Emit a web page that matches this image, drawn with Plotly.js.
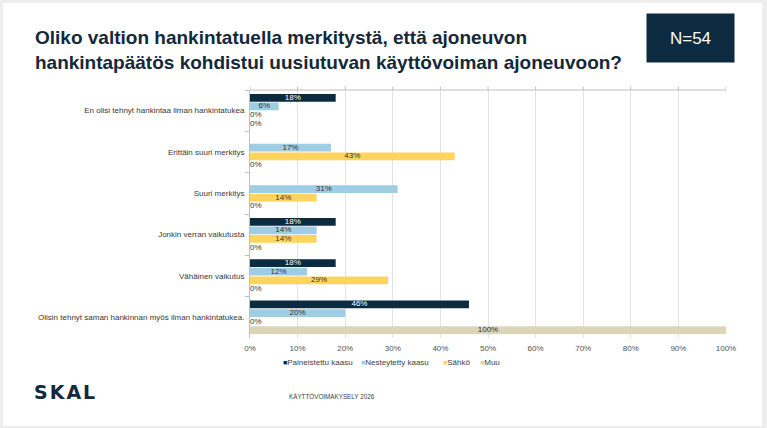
<!DOCTYPE html>
<html>
<head>
<meta charset="utf-8">
<script src="https://cdn.plot.ly/plotly-3.0.1.min.js"></script>
<style>
  html, body { margin: 0; padding: 0; background: #eeeeee; width: 767px; height: 428px; overflow: hidden; }
  #chart { position: absolute; left: 3px; top: 3px; width: 759px; height: 423px; }
</style>
</head>
<body>
<div id="chart"></div>
<script>
// Survey answers (share of respondents per fuel type, %)
const categories = [
  "En olisi tehnyt hankintaa ilman hankintatukea",
  "Erittäin suuri merkitys",
  "Suuri merkitys",
  "Jonkin verran vaikutusta",
  "Vähäinen vaikutus",
  "Olisin tehnyt saman hankinnan myös ilman hankintatukea."
];
const seriesNames = ["Paineistettu kaasu", "Nesteytetty kaasu", "Sähkö", "Muu"];
const paineistettu = [18, null, null, 18, 18, 46];
const nesteytetty  = [6, 17, 31, 14, 12, 20];
const sahko        = [0, 43, 14, 14, 29, 0];
const muu          = [0, 0, 0, 0, 0, 100];
const xTicks = [0, 10, 20, 30, 40, 50, 60, 70, 80, 90, 100];

const FONT = "Liberation Sans, Arial, sans-serif";
const NAVY = "#0d2b40";
const colors = [NAVY, "#9fcde3", "#ffd45c", "#ddd5b8"];
const labelColors = ["#ffffff", "#333333", "#333333", "#333333"];
const values = [paineistettu, nesteytetty, sahko, muu];
const GAP = 0.17;

// plot area in page pixels, used to place the free-standing texts
const PLOT = { left: 250, right: 726, top: 90, bottom: 338 };
const px = x => (x - PLOT.left) / (PLOT.right - PLOT.left);
const py = y => (PLOT.bottom - y) / (PLOT.bottom - PLOT.top);

const bars = values.map((vals, i) => ({
  type: "bar",
  orientation: "h",
  name: seriesNames[i],
  y: categories,
  x: vals,
  offsetgroup: String(i),
  marker: { color: colors[i], line: { width: 0 } },
  showlegend: false,
  hoverinfo: "skip"
}));

// value labels: centred on each bar, zero answers just right of the axis
const labels = values.map((vals, i) => ({
  type: "scatter",
  mode: "text",
  orientation: "h",
  offsetgroup: String(i),
  y: categories,
  x: vals.map(v => v === null ? null : v / 2),
  text: vals.map(v => v === null ? "" : v + "%"),
  textposition: vals.map(v => v === 0 ? "middle right" : "middle center"),
  textfont: {
    family: FONT, size: 8,
    color: vals.map(v => v === 0 ? "#333333" : labelColors[i])
  },
  showlegend: false,
  hoverinfo: "skip",
  cliponaxis: false
}));

// top frame line with small tick marks above it
const shapes = [{
  type: "line", xref: "paper", yref: "paper", x0: 0, x1: 1, y0: 1, y1: 1,
  line: { color: "#bfbfbf", width: 1 }
}].concat(xTicks.map(t => ({
  type: "line", xref: "x", yref: "paper", x0: t, x1: t, y0: 1, y1: 1.014,
  line: { color: "#bfbfbf", width: 1 }
})));

// compact legend row: small coloured square + series name
const legendX = [281, 359, 441, 478];
const legendNotes = seriesNames.map((name, i) => ({
  text: `<span style="font-size:7px;color:${colors[i]}">■</span>${name}`,
  xref: "paper", yref: "paper",
  x: px(legendX[i]), y: py(362),
  xanchor: "left", yanchor: "middle",
  showarrow: false,
  font: { family: FONT, size: 8, color: "#404040" }
}));

const layout = {
  width: 759,
  height: 423,
  paper_bgcolor: "#ffffff",
  plot_bgcolor: "#ffffff",
  font: { family: FONT, color: "#404040" },
  margin: { l: 247, r: 36, t: 87, b: 88 },
  barmode: "group",
  bargap: GAP,
  bargroupgap: 0.1,
  scattermode: "group",
  scattergap: GAP,
  showlegend: false,
  title: {
    text: "Oliko valtion hankintatuella merkitystä, että ajoneuvon<br>hankintapäätös kohdistui uusiutuvan käyttövoiman ajoneuvoon?",
    xref: "container", yref: "container",
    x: 32 / 759, xanchor: "left",
    y: 1 - 41 / 423, yanchor: "top",
    font: { family: FONT, size: 19, color: "#14283a", weight: "bold" }
  },
  xaxis: {
    range: [0, 100],
    tickvals: xTicks,
    ticktext: xTicks.map(t => t + "%"),
    showgrid: true,
    gridcolor: "#e3e3e3",
    gridwidth: 1,
    zeroline: false,
    showline: false,
    ticks: "",
    ticklabelstandoff: 4,
    tickfont: { family: FONT, size: 8, color: "#505050" },
    fixedrange: true
  },
  yaxis: {
    type: "category",
    autorange: "reversed",
    showline: true,
    linecolor: "#bfbfbf",
    linewidth: 1,
    ticks: "outside",
    tickson: "boundaries",
    ticklen: 4,
    tickcolor: "#bfbfbf",
    ticklabelstandoff: 3,
    showgrid: false,
    tickfont: { family: FONT, size: 8, color: "#383838" },
    fixedrange: true
  },
  shapes: shapes,
  annotations: [
    {
      text: "N=54",
      xref: "paper", yref: "paper",
      x: px(690.5), y: py(38), xanchor: "center", yanchor: "middle",
      width: 85, height: 46,
      bgcolor: NAVY,
      showarrow: false,
      font: { family: FONT, size: 17, color: "#ffffff" }
    },
    {
      text: "<span style=\"letter-spacing:2px\"><b>SKAL</b></span>",
      xref: "paper", yref: "paper",
      x: px(65), y: py(392),
      xanchor: "center", yanchor: "middle",
      showarrow: false,
      font: { family: "DejaVu Sans, sans-serif", size: 19, color: "#14283a" }
    },
    {
      text: "KÄYTTÖVOIMAKYSELY 2026",
      xref: "paper", yref: "paper",
      x: px(287), y: py(396),
      xanchor: "left", yanchor: "middle",
      showarrow: false,
      font: { family: FONT, size: 6.3, color: "#404040" }
    }
  ].concat(legendNotes)
};

Plotly.newPlot("chart", bars.concat(labels), layout, { displayModeBar: false, staticPlot: true });
</script>
</body>
</html>
